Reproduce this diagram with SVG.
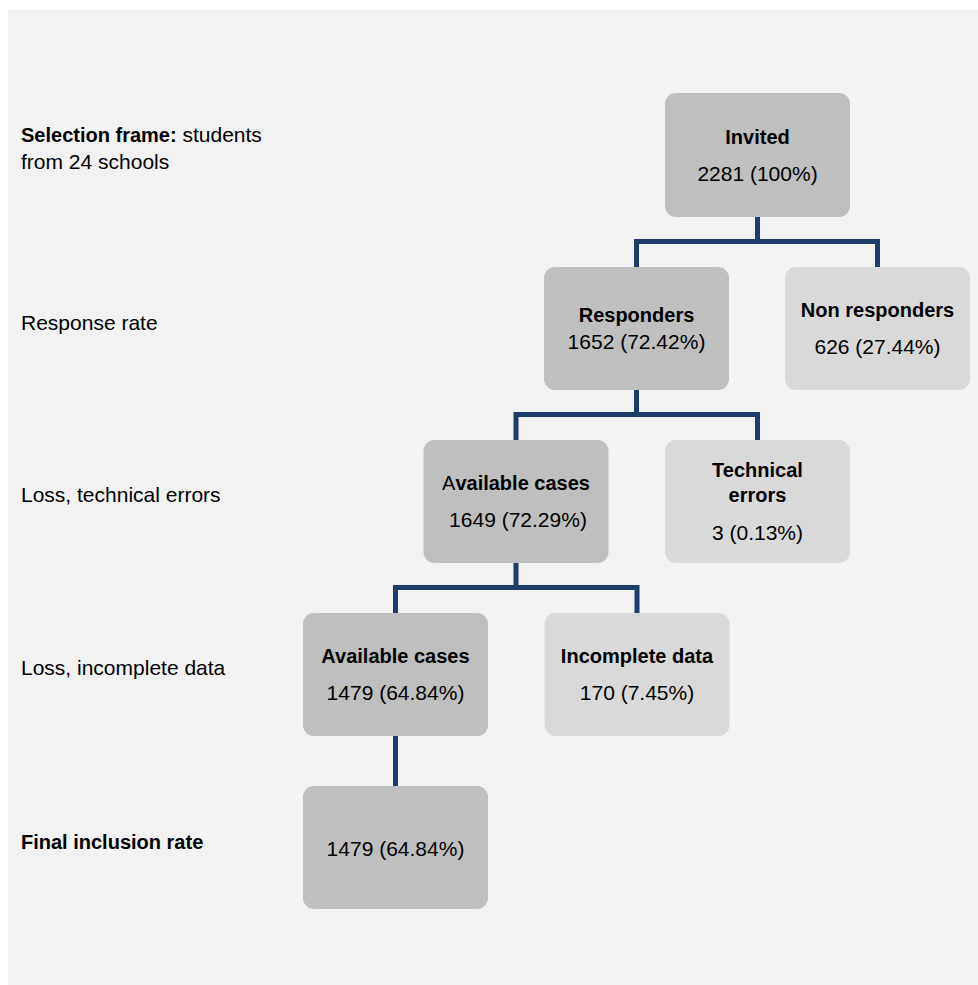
<svg xmlns="http://www.w3.org/2000/svg" width="978" height="985" viewBox="0 0 978 985">
<style>
.bg{fill:#f2f2f2}
.dark{fill:#bfbfbf}
.light{fill:#d9d9d9}
text{font-family:"Liberation Sans",Arial,sans-serif;fill:#000}
.t{font-size:21px}
.b{font-size:20px;font-weight:bold}
.n{font-weight:normal}
.c{text-anchor:middle}
.conn{fill:none;stroke:#1f3d6b;stroke-width:5}
</style>
<rect x="0" y="0" width="978" height="985" fill="#ffffff"/>
<rect class="bg" x="8" y="10" width="970" height="975"/>
<g id="labels">
<text class="t" x="21" y="142"><tspan class="b">Selection frame:</tspan> students</text>
<text class="t" x="21" y="169">from 24 schools</text>
<text class="t" x="21" y="330">Response rate</text>
<text class="t" x="21" y="502">Loss, technical errors</text>
<text class="t" x="21" y="675">Loss, incomplete data</text>
<text class="b" x="21" y="849">Final inclusion rate</text>
</g>
<g id="connectors">
<path class="conn" d="M757.5 217 V241.5 M636.5 267 V241.5 H877.5 V267"/>
<path class="conn" d="M636.5 390 V414.5 M516 440 V414.5 H757.5 V440"/>
<path class="conn" d="M516 563 V587.5 M395.5 613 V587.5 H637 V613"/>
<path class="conn" d="M395.5 736 V786"/>
</g>
<g id="invited">
<rect class="dark" x="665" y="93" width="185" height="124" rx="11"/>
<text class="b c" x="757.5" y="144">Invited</text>
<text class="t c" x="757.5" y="181">2281 (100%)</text>
</g>
<g id="responders">
<rect class="dark" x="544" y="267" width="185" height="123" rx="11"/>
<text class="b c" x="636.5" y="322">Responders</text>
<text class="t c" x="636.5" y="349">1652 (72.42%)</text>
</g>
<g id="non-responders">
<rect class="light" x="785" y="267" width="185" height="123" rx="11"/>
<text class="b c" x="877.5" y="317">Non responders</text>
<text class="t c" x="877.5" y="354">626 (27.44%)</text>
</g>
<g id="available-1">
<rect class="dark" x="423.5" y="440" width="185" height="123" rx="11"/>
<text class="b c" x="516" y="490"><tspan class="n">A</tspan>vailable cases</text>
<text class="t c" x="518" y="527">1649 (72.29%)</text>
</g>
<g id="technical-errors">
<rect class="light" x="665" y="440" width="185" height="123" rx="11"/>
<text class="b c" x="757.5" y="477">Technical</text>
<text class="b c" x="757.5" y="502">errors</text>
<text class="t c" x="757.5" y="540">3 (0.13%)</text>
</g>
<g id="available-2">
<rect class="dark" x="303" y="613" width="185" height="123" rx="11"/>
<text class="b c" x="395.5" y="663">Available cases</text>
<text class="t c" x="395.5" y="700">1479 (64.84%)</text>
</g>
<g id="incomplete-data">
<rect class="light" x="544.5" y="613" width="185" height="123" rx="11"/>
<text class="b c" x="637" y="663">Incomplete data</text>
<text class="t c" x="637" y="700">170 (7.45%)</text>
</g>
<g id="final">
<rect class="dark" x="303" y="786" width="185" height="123" rx="11"/>
<text class="t c" x="395.5" y="856">1479 (64.84%)</text>
</g>
</svg>
